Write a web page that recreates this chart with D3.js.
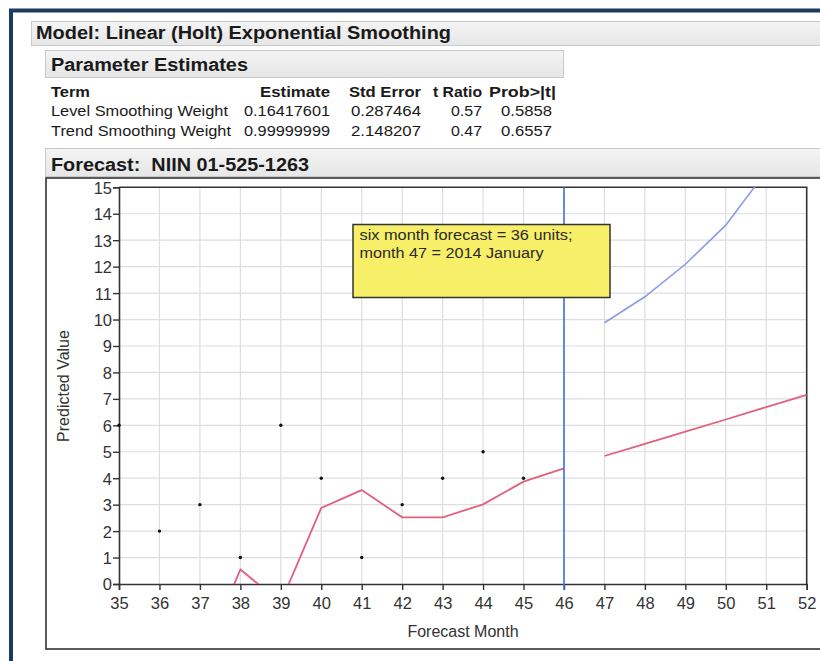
<!DOCTYPE html>
<html><head><meta charset="utf-8">
<script src="https://cdn.jsdelivr.net/npm/d3@7"></script>
<style>
html,body{margin:0;padding:0;background:#fff;}
svg{display:block;font-family:Arial,"Liberation Sans",sans-serif;}
</style></head>
<body>
<svg id="chart" width="820" height="661"></svg>
<script>
// ---------- data ----------
const modelTitle = "Model: Linear (Holt) Exponential Smoothing";
const paramTitle = "Parameter Estimates";
const tableHeader = ["Term", "Estimate", "Std Error", "t Ratio", "Prob>|t|"];
const terms = ["Level Smoothing Weight", "Trend Smoothing Weight"];
const estimates = ["0.16417601", "0.99999999"];
const stdErrors = ["0.287464", "2.148207"];
const tRatios = ["0.57", "0.47"];
const probs = ["0.5858", "0.6557"];
const forecastTitle = "Forecast:  NIIN 01-525-1263";

const actualMonths = [35, 36, 37, 38, 39, 40, 41, 42, 43, 44, 45];
const actualValues = [6, 2, 3, 1, 6, 4, 1, 3, 4, 5, 4];
const fittedMonths = [37, 38, 39, 40, 41, 42, 43, 44, 45, 46];
const fittedValues = [-3.1, 0.55, -0.7, 2.88, 3.55, 2.52, 2.52, 3.01, 3.87, 4.37];
const forecastMonths = [47, 48, 49, 50, 51, 52];
const forecastValues = [4.84, 5.30, 5.76, 6.22, 6.69, 7.15];
const upperValues = [9.88, 10.86, 12.09, 13.57, 15.6, 17.8];
const lastActualMonth = 46;
const xTicks = d3.range(35, 53);
const yTicks = d3.range(0, 16);
const noteLines = ["six month forecast = 36 units;", "month 47 = 2014 January"];
const xTitle = "Forecast Month";
const yTitle = "Predicted Value";

// ---------- drawing ----------
const svg = d3.select("#chart");
const defs = svg.append("defs");
const g1 = defs.append("linearGradient").attr("id","hdr").attr("x1",0).attr("y1",0).attr("x2",0).attr("y2",1);
g1.append("stop").attr("offset","0%").attr("stop-color","#f4f4f4");
g1.append("stop").attr("offset","100%").attr("stop-color","#e6e6e6");

function fitText(sel, len){ sel.attr("textLength", len).attr("lengthAdjust","spacingAndGlyphs").style("white-space","pre"); return sel; }

// outer navy frame
svg.append("path").attr("d","M11,661V10.5H820").attr("fill","none")
  .attr("stroke","#1d3a63").attr("stroke-width",4);

// model header
svg.append("rect").attr("x",31.5).attr("y",21.5).attr("width",800).attr("height",24)
  .attr("fill","url(#hdr)").attr("stroke","#c8c8c8");
fitText(svg.append("text").attr("x",36).attr("y",39).attr("font-size",18).attr("font-weight","bold")
  .attr("fill","#1a1a1a").text(modelTitle), 415);

// parameter estimates header
svg.append("rect").attr("x",45.5).attr("y",50.5).attr("width",518).attr("height",27)
  .attr("fill","url(#hdr)").attr("stroke","#c8c8c8");
fitText(svg.append("text").attr("x",51).attr("y",71).attr("font-size",18).attr("font-weight","bold")
  .attr("fill","#1a1a1a").text(paramTitle), 197);

// table
const hdrY = 97;
const tcol = svg.append("g").attr("font-size",15.5).attr("fill","#1a1a1a");
fitText(tcol.append("text").attr("x",51).attr("y",hdrY).attr("font-weight","bold").text(tableHeader[0]), 39);
fitText(tcol.append("text").attr("x",260).attr("y",hdrY).attr("font-weight","bold").text(tableHeader[1]), 70);
fitText(tcol.append("text").attr("x",349).attr("y",hdrY).attr("font-weight","bold").text(tableHeader[2]), 72);
fitText(tcol.append("text").attr("x",433).attr("y",hdrY).attr("font-weight","bold").text(tableHeader[3]), 49);
fitText(tcol.append("text").attr("x",489).attr("y",hdrY).attr("font-weight","bold").text(tableHeader[4]), 67);
const termW = [177, 180];
terms.forEach((t,i)=>{
  const y = 116 + i*20;
  fitText(tcol.append("text").attr("x",51).attr("y",y).text(t), termW[i]);
  fitText(tcol.append("text").attr("x",244).attr("y",y).text(estimates[i]), 86);
  fitText(tcol.append("text").attr("x",351).attr("y",y).text(stdErrors[i]), 70);
  fitText(tcol.append("text").attr("x",451).attr("y",y).text(tRatios[i]), 31);
  fitText(tcol.append("text").attr("x",501).attr("y",y).text(probs[i]), 51);
});

// forecast header
svg.append("rect").attr("x",45.5).attr("y",148.5).attr("width",800).attr("height",28)
  .attr("fill","url(#hdr)").attr("stroke","#c8c8c8");
fitText(svg.append("text").attr("x",51).attr("y",171).attr("font-size",18).attr("font-weight","bold")
  .attr("fill","#1a1a1a").text(forecastTitle), 258);

// plot frame
svg.append("rect").attr("x",46).attr("y",178).attr("width",800).attr("height",471)
  .attr("fill","#fff").attr("stroke","#333").attr("stroke-width",1.6);

// scales
const x = d3.scaleLinear().domain([35,52]).range([119,806.7]);
const y = d3.scaleLinear().domain([0,15]).range([584,187.3]);

defs.append("clipPath").attr("id","clip").append("rect")
  .attr("x",x(35)).attr("y",y(15)).attr("width",x(52)-x(35)).attr("height",y(0)-y(15));

// grid
const grid = svg.append("g").attr("stroke","#dedede").attr("stroke-width",1.2);
grid.selectAll(".gx").data(xTicks.slice(1,-1)).join("line")
  .attr("x1",d=>x(d)).attr("x2",d=>x(d)).attr("y1",y(15)).attr("y2",y(0));
grid.selectAll(".gy").data(yTicks.slice(1,-1)).join("line")
  .attr("x1",x(35)).attr("x2",x(52)).attr("y1",d=>y(d)).attr("y2",d=>y(d));

// plot border top/right
svg.append("path").attr("d",`M${x(35)},${y(15)}H${x(52)}V${y(0)}`).attr("fill","none")
  .attr("stroke","#333").attr("stroke-width",1.6);

// axes
const xAxis = svg.append("g").attr("transform",`translate(0,${y(0)})`)
  .call(d3.axisBottom(x).tickValues(xTicks).tickFormat(d3.format("d")).tickSize(6).tickPadding(7));
const yAxis = svg.append("g").attr("transform",`translate(${x(35)},0)`)
  .call(d3.axisLeft(y).tickValues(yTicks).tickFormat(d3.format("d")).tickSize(6).tickPadding(1));
[xAxis,yAxis].forEach(a=>{
  a.select(".domain").attr("stroke","#333").attr("stroke-width",1.6);
  a.selectAll(".tick line").attr("stroke","#333").attr("stroke-width",1.4);
  a.selectAll(".tick text").attr("fill","#333").attr("font-family","Arial,'Liberation Sans',sans-serif");
});
xAxis.selectAll(".tick text").attr("font-size",16.5);
yAxis.selectAll(".tick text").attr("font-size",16.5).attr("dy","0.36em");

// axis titles
svg.append("text").attr("x",463).attr("y",637).attr("text-anchor","middle")
  .attr("font-size",16).attr("fill","#333").text(xTitle);
svg.append("text").attr("transform","translate(69,386) rotate(-90)").attr("text-anchor","middle")
  .attr("font-size",16).attr("fill","#333").text(yTitle);

// lines
const plot = svg.append("g").attr("clip-path","url(#clip)");
const line = d3.line().x(d=>x(d[0])).y(d=>y(d[1]));
plot.append("path").datum(fittedMonths.map((m,i)=>[m,fittedValues[i]]))
  .attr("d",line).attr("fill","none").attr("stroke","#e2607f").attr("stroke-width",1.8);
plot.append("path").datum(forecastMonths.map((m,i)=>[m,forecastValues[i]]))
  .attr("d",line).attr("fill","none").attr("stroke","#e2607f").attr("stroke-width",1.8);
plot.append("path").datum(forecastMonths.map((m,i)=>[m,upperValues[i]]))
  .attr("d",line).attr("fill","none").attr("stroke","#8a9be6").attr("stroke-width",1.6);

// vertical marker at last actual month
svg.append("line").attr("x1",x(lastActualMonth)).attr("x2",x(lastActualMonth))
  .attr("y1",y(15)).attr("y2",y(0)+6).attr("stroke","#3f74d8").attr("stroke-width",1.6);

// actual points
svg.append("g").selectAll("circle").data(actualMonths.map((m,i)=>[m,actualValues[i]])).join("circle")
  .attr("cx",d=>x(d[0])).attr("cy",d=>y(d[1])).attr("r",1.7).attr("fill","#111");

// annotation
const note = svg.append("g");
note.append("rect").attr("x",353).attr("y",224.5).attr("width",257).attr("height",73)
  .attr("fill","#f7ef68").attr("stroke","#333").attr("stroke-width",1.5);
const noteW = [213, 184];
noteLines.forEach((t,i)=>{
  fitText(note.append("text").attr("x",359.5).attr("y",239.5+i*18.5).attr("font-size",15.5).attr("fill","#2a2a2a").text(t), noteW[i]);
});
</script>
</body></html>
